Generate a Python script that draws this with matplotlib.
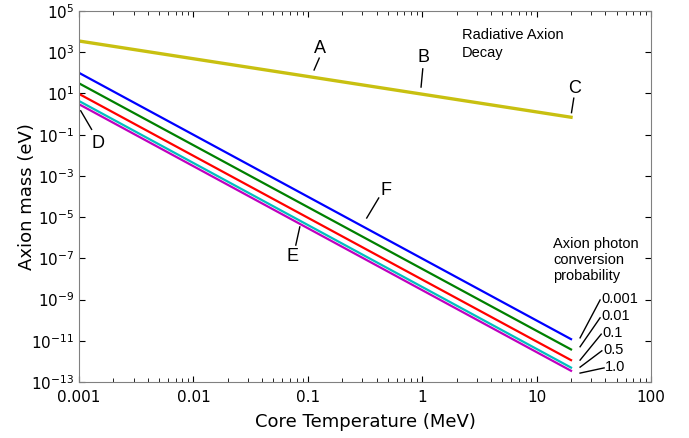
import matplotlib
matplotlib.use("Agg")
import matplotlib.pyplot as plt
import numpy as np
from matplotlib.ticker import FixedLocator, FixedFormatter, LogLocator, NullFormatter

# temperature range of the curves (MeV)
T_range = [0.001, 20]

# radiative axion decay line (eV)
decay_mass = [3500, 0.7]

# axion mass for each photon conversion probability (eV) at both ends
probs = ["0.001", "0.01", "0.1", "0.5", "1.0"]
mass_start = [100, 31, 9.5, 4.3, 3.0]
mass_end = [1.2e-11, 3.8e-12, 1.15e-12, 5.0e-13, 3.5e-13]
colors = ["#0000ff", "#008000", "#ff0000", "#00bfbf", "#bf00bf"]

x_ticks = [0.001, 0.01, 0.1, 1, 10, 100]
x_ticklabels = ["0.001", "0.01", "0.1", "1", "10", "100"]

fig = plt.figure(figsize=(6.89, 4.38), dpi=100)
ax = fig.add_axes([79 / 689, 1 - 382 / 438, 572 / 689, 371 / 438])

ax.plot(T_range, decay_mass, color="#c8c010", lw=2.4)
for m0, m1, c in zip(mass_start, mass_end, colors):
    ax.plot(T_range, [m0, m1], color=c, lw=1.6)

ax.set_xscale("log")
ax.set_yscale("log")
ax.set_xlim(0.001, 100)
ax.set_ylim(1e-13, 1e5)

ax.xaxis.set_major_locator(FixedLocator(x_ticks))
ax.xaxis.set_major_formatter(FixedFormatter(x_ticklabels))
ax.xaxis.set_minor_locator(LogLocator(base=10, subs=np.arange(2, 10)))
ax.xaxis.set_minor_formatter(NullFormatter())
ax.yaxis.set_major_locator(FixedLocator([10.0 ** k for k in range(-13, 6, 2)]))
ax.yaxis.set_minor_locator(FixedLocator([]))

ax.tick_params(which="both", direction="in", top=True, right=True,
               labelsize=11, color="black")
ax.tick_params(which="major", length=4)
ax.tick_params(which="minor", length=3)
ax.tick_params(axis="x", pad=6)
for s in ax.spines.values():
    s.set_color("#808080")

ax.set_xlabel("Core Temperature (MeV)", fontsize=13)
ax.set_ylabel("Axion mass (eV)", fontsize=13)
ax.xaxis.set_label_coords(0.5, -0.083)
ax.yaxis.set_label_coords(-0.075, 0.5)

lab = dict(family="Liberation Sans", fontsize=13, ha="center", va="center",
           transform=ax.transAxes)

# letter labels with short leader lines (axes fractions)
letters = [
    ("A", (0.421, 0.900), (0.420, 0.873), (0.411, 0.841)),
    ("B", (0.603, 0.876), (0.601, 0.844), (0.598, 0.795)),
    ("C", (0.867, 0.792), (0.865, 0.765), (0.861, 0.726)),
    ("D", (0.033, 0.644), (0.003, 0.731), (0.022, 0.681)),
    ("E", (0.374, 0.337), (0.386, 0.418), (0.379, 0.369)),
    ("F", (0.537, 0.515), (0.524, 0.496), (0.503, 0.442)),
]
for t, pos, p0, p1 in letters:
    ax.text(pos[0], pos[1], t, **lab)
    ax.plot([p0[0], p1[0]], [p0[1], p1[1]], color="black", lw=1,
            transform=ax.transAxes, clip_on=False)

ax.text(0.670, 0.911, "Radiative Axion\nDecay", family="Liberation Sans",
        fontsize=10.5, ha="left", va="center", transform=ax.transAxes,
        linespacing=1.3)
ax.text(0.829, 0.329, "Axion photon\nconversion\nprobability",
        family="Liberation Sans", fontsize=10.5, ha="left", va="center",
        transform=ax.transAxes, linespacing=1.2)

prob_y = [0.224, 0.178, 0.132, 0.086, 0.040]
line_bot = [0.119, 0.095, 0.059, 0.040, 0.024]
line_top_x = [0.911, 0.911, 0.913, 0.914, 0.918]
line_top_y = [0.221, 0.173, 0.129, 0.084, 0.038]
for p, ty, by, tx, tty in zip(probs, prob_y, line_bot, line_top_x, line_top_y):
    ax.text(tx + 0.002, ty, p, family="Liberation Sans", fontsize=10.5,
            ha="left", va="center", transform=ax.transAxes)
    ax.plot([0.876, tx], [by, tty], color="black", lw=1,
            transform=ax.transAxes, clip_on=False)

fig.savefig("out.png", dpi=100)
